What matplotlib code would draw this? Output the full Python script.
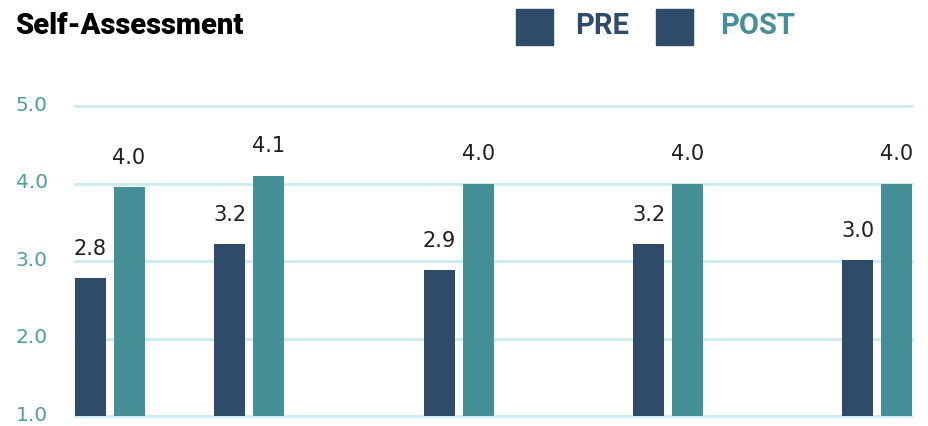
import numpy as np
import matplotlib.pyplot as plt
import matplotlib.transforms as mtransforms
from matplotlib.patches import Rectangle

# data
pre = [2.78, 3.22, 2.88, 3.22, 3.01]
post = [3.95, 4.10, 4.00, 4.00, 4.00]
pre_labels = ['2.8', '3.2', '2.9', '3.2', '3.0']
post_labels = ['4.0', '4.1', '4.0', '4.0', '4.0']
yticks = [1.0, 2.0, 3.0, 4.0, 5.0]

# groups are not evenly spaced in the original
group_x = np.array([0, 0.667, 1.667, 2.667, 3.667])

navy = '#2E4B6A'
teal = '#449096'
tick_col = '#4E9DA2'
grid_col = '#CDEAF2'

plt.rcParams['font.family'] = ['Roboto', 'DejaVu Sans']

fig = plt.figure(figsize=(9.29, 4.26), dpi=100)
ax = fig.add_axes([75/929, 1-416/426, (912-75)/929, (416-106)/426])

w = 0.148
off = 0.093
b1 = ax.bar(group_x - off, np.array(pre) - 1, w, bottom=1, color=navy, zorder=3)
b2 = ax.bar(group_x + off, np.array(post) - 1, w, bottom=1, color=teal, zorder=3)

for bars, labs in ((b1, pre_labels), (b2, post_labels)):
    for r, t in zip(bars, labs):
        ax.annotate(t, (r.get_x() + r.get_width()/2, r.get_y() + r.get_height()),
                    xytext=(0, 14), textcoords='offset points', ha='center', va='bottom',
                    fontsize=15, color='#1E1E1E', family='DejaVu Sans',
                    annotation_clip=False)

ax.set_xlim(-0.165, 3.832)
ax.set_ylim(1, 5)
ax.set_yticks(yticks)
ax.set_yticklabels(['%.1f' % v for v in yticks], fontsize=14.5, color=tick_col,
                   family='DejaVu Sans')
ax.tick_params(axis='y', length=0, pad=19.5)
# nudge tick labels up a little so the bottom one stays inside the figure
nudge = mtransforms.ScaledTranslation(0, 2/72, fig.dpi_scale_trans)
for lab in ax.get_yticklabels():
    lab.set_transform(lab.get_transform() + nudge)
ax.set_xticks([])
for s in ax.spines.values():
    s.set_visible(False)
for v in yticks:
    ax.axhline(v, color=grid_col, lw=2, zorder=1, clip_on=False)

fig.text(15/929, 1-26/426, 'Self-Assessment', fontsize=21, fontweight='black',
         color='black', va='center', ha='left')

# legend drawn by hand
for x0, label, col, tx in ((516, 'PRE', navy, 575), (656, 'POST', teal, 720)):
    fig.patches.append(Rectangle((x0/929, 1-45/426), 37/929, 36/426,
                                 transform=fig.transFigure, color=navy))
    fig.text(tx/929, 1-26/426, label, fontsize=21, fontweight='bold',
             color=col, va='center', ha='left')

fig.savefig('out.png', dpi=100)
